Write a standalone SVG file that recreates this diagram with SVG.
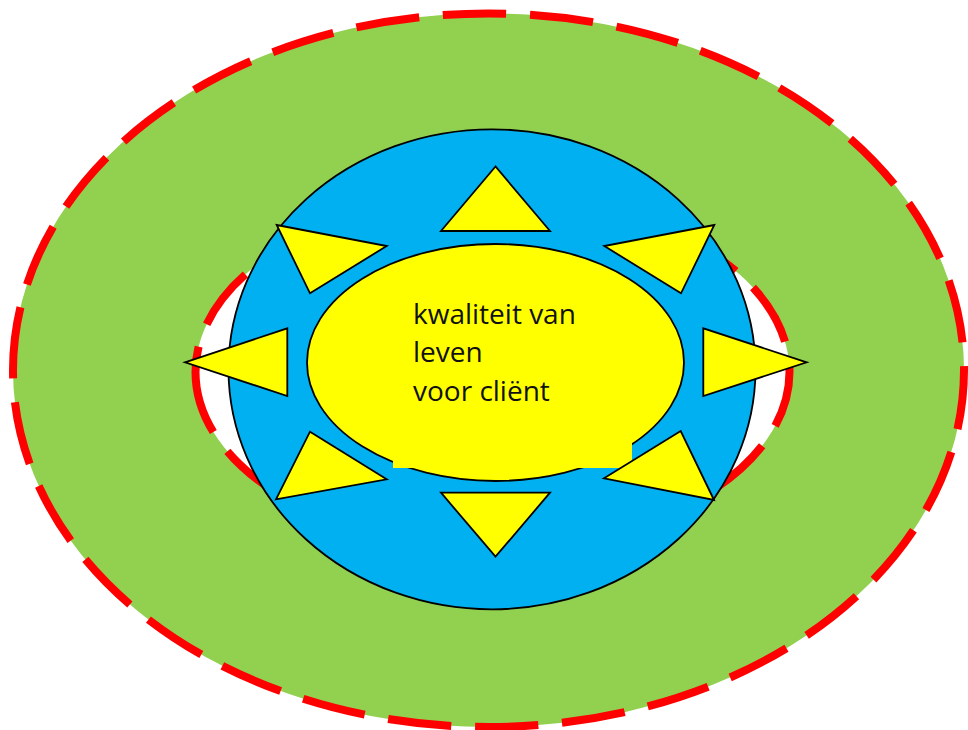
<svg xmlns="http://www.w3.org/2000/svg" width="968" height="730" viewBox="0 0 968 730">
<style>
.ring{stroke:#FF0000;stroke-width:8;stroke-dasharray:63.5 23.8;stroke-linecap:butt;}
.tri{fill:#FFFF00;stroke:#000;stroke-width:1.8;stroke-linejoin:miter;}
.lbl{font-family:"Open Sans","Noto Sans",sans-serif;font-size:28px;fill:#111111;}
</style>
<rect width="968" height="730" fill="#FFFFFF"/>
<g id="outer-ring">
<path class="ring" fill="#92D050" d="M13,370.2 A475.5,356.8 0 0 1 488.5,13.4 A475.5,356.8 0 0 1 964,370.2 A475.5,356.8 0 0 1 488.5,727 A475.5,356.8 0 0 1 13,370.2 Z"/>
</g>
<g id="inner-ring">
<path class="ring" fill="#FFFFFF" d="M195.5,372 A297,176 0 0 0 492.5,548 A297,176 0 0 0 789.5,372 A297,176 0 0 0 492.5,196 A297,176 0 0 0 195.5,372 Z"/>
</g>
<g id="blue-circle">
<ellipse cx="492" cy="369.3" rx="263.5" ry="240" fill="#00B0F0" stroke="#000" stroke-width="1.8"/>
</g>
<g id="center">
<ellipse cx="495.5" cy="362.5" rx="188.5" ry="118.5" fill="#FFFF00" stroke="#000" stroke-width="1.8"/>
<rect x="393" y="300" width="239" height="168" fill="#FFFF00"/>
<text class="lbl" x="413" y="323.5">kwaliteit van</text>
<text class="lbl" x="413" y="362">leven</text>
<text class="lbl" x="413" y="401">voor cliënt</text>
</g>
<g id="rays">
<polygon class="tri" points="495.5,166.5 441,231 550,231"/>
<polygon class="tri" points="441,492.7 550,492.7 495.5,556.7"/>
<polygon class="tri" points="185,362.3 287.3,328.3 287.3,396"/>
<polygon class="tri" points="806.7,362.3 703.3,328.3 703.3,396"/>
<polygon class="tri" points="276.7,225 386.7,246 310,293.3"/>
<polygon class="tri" points="714.3,225 604.3,246 681,293.3"/>
<polygon class="tri" points="276,499.3 310,431.7 386.7,479.3"/>
<polygon class="tri" points="714,500 680.7,431 604,478.3"/>
</g>
</svg>
